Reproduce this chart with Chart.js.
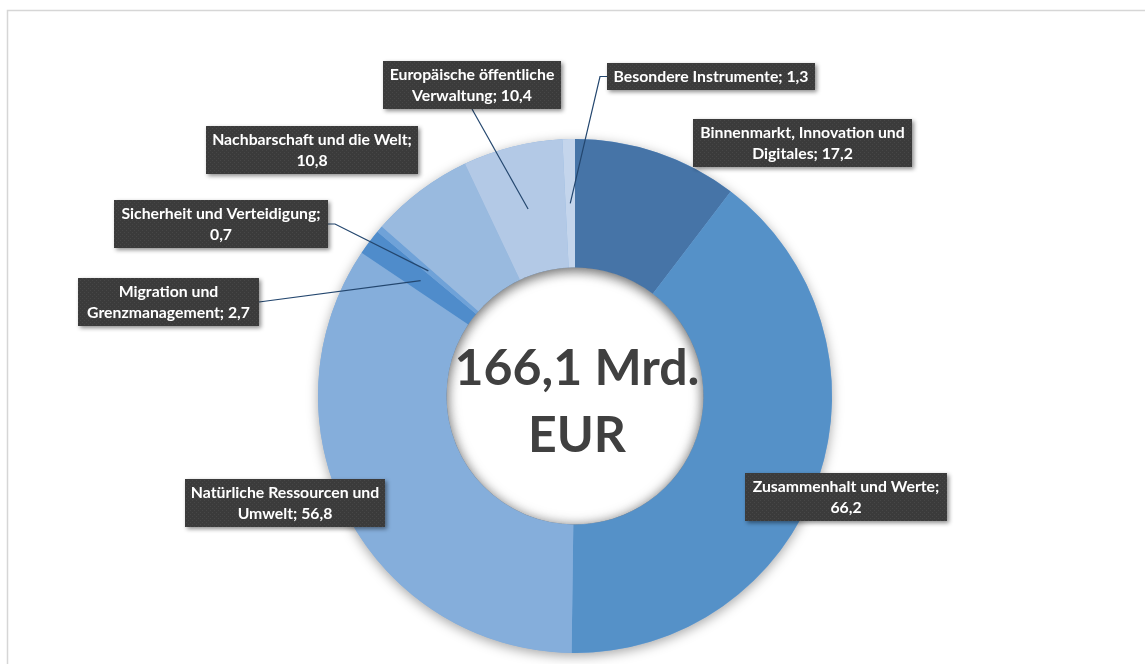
<!DOCTYPE html>
<html>
<head>
<meta charset="utf-8">
<script src="https://cdn.jsdelivr.net/npm/chart.js@4/dist/chart.umd.min.js"></script>
<style>
  body { margin: 0; background: #fff; }
  #wrap { width: 1145px; height: 664px; position: relative; }
</style>
</head>
<body>
<div id="wrap"><canvas id="budgetChart" width="1145" height="664"></canvas></div>
<script>
// Daten
const categories = [
    'Binnenmarkt, Innovation und Digitales',
    'Zusammenhalt und Werte',
    'Natürliche Ressourcen und Umwelt',
    'Migration und Grenzmanagement',
    'Sicherheit und Verteidigung',
    'Nachbarschaft und die Welt',
    'Europäische öffentliche Verwaltung',
    'Besondere Instrumente'
];
const values = [17.2, 66.2, 56.8, 2.7, 0.7, 10.8, 10.4, 1.3];
const centerLines = ['166,1 Mrd.', 'EUR'];

// Farben und Beschriftungs-Layout (Position der Kästen, Wortumbruch)
const colors = ['#4674a7', '#5591c8', '#85aedb', '#4f8ccb', '#6fa2d8', '#99badf', '#b3c9e6', '#c4d5ec'];
const boxes = [
    { x: 693, y: 119, w: 219, split: 3 },
    { x: 745, y: 473, w: 202, split: 3 },
    { x: 185, y: 479, w: 200, split: 3 },
    { x: 78,  y: 278, w: 181, split: 2, line: 'right' },
    { x: 114, y: 200, w: 214, split: 3, line: 'right', elbow: 7 },
    { x: 206, y: 126, w: 212, split: 4 },
    { x: 383, y: 61,  w: 178, split: 2, line: 'bottom' },
    { x: 607, y: 63,  w: 208, split: 0, line: 'left', elbow: 7 }
];

const fmt = v => v.toFixed(1).replace('.', ',');

// Punktmuster für die Kästen
function makePattern(ctx) {
    const c = document.createElement('canvas');
    c.width = 4; c.height = 4;
    const p = c.getContext('2d');
    p.fillStyle = '#3b3b3b';
    p.fillRect(0, 0, 4, 4);
    p.fillStyle = '#474747';
    p.fillRect(0, 0, 1, 1);
    p.fillRect(2, 2, 1, 1);
    return ctx.createPattern(c, 'repeat');
}

const decorPlugin = {
    id: 'decor',
    beforeDraw(chart) {
        const ctx = chart.ctx;
        ctx.save();
        ctx.strokeStyle = '#d6d6d6';
        ctx.lineWidth = 1.5;
        ctx.strokeRect(7.5, 10.5, 1160, 700);
        ctx.restore();
    },
    beforeDatasetsDraw(chart) {
        const arc = chart.getDatasetMeta(0).data[0];
        const ctx = chart.ctx;
        ctx.save();
        ctx.shadowColor = 'rgba(0,0,0,0.35)';
        ctx.shadowBlur = 12;
        ctx.shadowOffsetY = 3;
        ctx.fillStyle = '#85aedb';
        ctx.beginPath();
        ctx.arc(arc.x, arc.y, arc.outerRadius, 0, Math.PI * 2);
        ctx.arc(arc.x, arc.y, arc.innerRadius, 0, Math.PI * 2, true);
        ctx.fill();
        ctx.restore();
    },
    afterDatasetsDraw(chart) {
        // innerer Schatten im Loch
        const arc = chart.getDatasetMeta(0).data[0];
        const ctx = chart.ctx;
        ctx.save();
        ctx.beginPath();
        ctx.arc(arc.x, arc.y, arc.innerRadius, 0, Math.PI * 2);
        ctx.clip();
        ctx.shadowColor = 'rgba(0,0,0,0.4)';
        ctx.shadowBlur = 14;
        ctx.shadowOffsetY = 2;
        ctx.fillStyle = '#888';
        ctx.beginPath();
        ctx.arc(arc.x, arc.y, arc.innerRadius + 60, 0, Math.PI * 2);
        ctx.arc(arc.x, arc.y, arc.innerRadius, 0, Math.PI * 2, true);
        ctx.fill();
        ctx.restore();
    },
    afterDraw(chart) {
        const ctx = chart.ctx;
        const meta = chart.getDatasetMeta(0);
        const arc0 = meta.data[0];

        // Mitte
        ctx.save();
        ctx.fillStyle = '#404040';
        ctx.font = 'bold 50px Lato';
        ctx.textAlign = 'center';
        ctx.textBaseline = 'middle';
        ctx.fillText(centerLines[0], arc0.x + 2, arc0.y - 27);
        ctx.fillText(centerLines[1], arc0.x + 2, arc0.y + 40);
        ctx.restore();

        const pattern = makePattern(ctx);

        // Führungslinien
        ctx.save();
        ctx.strokeStyle = '#23466e';
        ctx.lineWidth = 1.2;
        boxes.forEach((b, i) => {
            if (!b.line) return;
            const h = b.split ? 48 : 27;
            const pos = meta.data[i].tooltipPosition();
            ctx.beginPath();
            if (b.line === 'bottom') {
                ctx.moveTo(b.x + b.w / 2, b.y + h);
            } else if (b.line === 'right') {
                ctx.moveTo(b.x + b.w, b.y + h / 2);
                if (b.elbow) ctx.lineTo(b.x + b.w + b.elbow, b.y + h / 2);
            } else {
                ctx.moveTo(b.x, b.y + h / 2);
                if (b.elbow) ctx.lineTo(b.x - b.elbow, b.y + h / 2);
            }
            ctx.lineTo(pos.x, pos.y);
            ctx.stroke();
        });
        ctx.restore();

        // Kästen
        boxes.forEach((b, i) => {
            const words = (categories[i] + '; ' + fmt(values[i])).split(' ');
            const lines = b.split ? [words.slice(0, b.split).join(' '), words.slice(b.split).join(' ')] : [words.join(' ')];
            const h = lines.length === 2 ? 48 : 27;
            ctx.save();
            ctx.shadowColor = 'rgba(0,0,0,0.45)';
            ctx.shadowBlur = 4;
            ctx.shadowOffsetX = 2;
            ctx.shadowOffsetY = 2;
            ctx.fillStyle = pattern;
            ctx.fillRect(b.x, b.y, b.w, h);
            ctx.restore();

            ctx.save();
            ctx.fillStyle = '#ffffff';
            ctx.font = 'bold 15.8px Lato';
            ctx.textAlign = 'center';
            ctx.textBaseline = 'middle';
            lines.forEach((t, k) => {
                ctx.fillText(t, b.x + b.w / 2, b.y + 14 + k * 21);
            });
            ctx.restore();
        });
    }
};

new Chart(document.getElementById('budgetChart').getContext('2d'), {
    type: 'doughnut',
    data: {
        labels: categories,
        datasets: [{
            data: values,
            backgroundColor: colors,
            borderWidth: 0
        }]
    },
    options: {
        responsive: false,
        animation: false,
        cutout: '50%',
        layout: {
            padding: { top: 139, bottom: 11, left: 300, right: 295 }
        },
        plugins: {
            legend: { display: false },
            tooltip: { enabled: false }
        }
    },
    plugins: [decorPlugin]
});
</script>
</body>
</html>
